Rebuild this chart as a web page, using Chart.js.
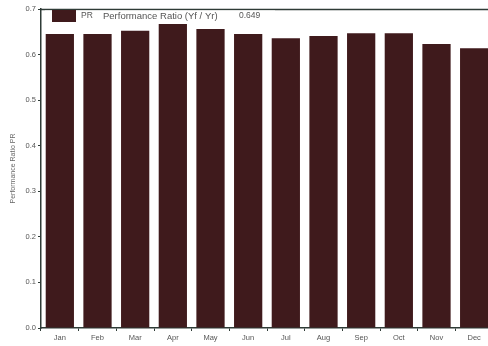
<!DOCTYPE html>
<html>
<head>
<meta charset="utf-8">
<script src="https://cdn.jsdelivr.net/npm/chart.js@4"></script>
<style>
  html, body { margin: 0; padding: 0; background: #fff; overflow: hidden; }
  #wrap { width: 493px; height: 346px; }
</style>
</head>
<body>
<div id="wrap"><canvas id="c" width="493" height="346"></canvas></div>
<script>
// monthly performance ratio
const months = ['Jan', 'Feb', 'Mar', 'Apr', 'May', 'Jun', 'Jul', 'Aug', 'Sep', 'Oct', 'Nov', 'Dec'];
const prValues = [0.645, 0.645, 0.652, 0.667, 0.656, 0.645, 0.636, 0.641, 0.647, 0.647, 0.623, 0.614];
const yTicks = [0.0, 0.1, 0.2, 0.3, 0.4, 0.5, 0.6, 0.7];
const legendParts = ['PR', 'Performance Ratio (Yf / Yr)', '0.649'];

const barColor = '#3f1a1c';
const axisColor = '#2e3b36';
const textColor = '#555';
const fontFam = 'Arial, "Liberation Sans", sans-serif';

// legend box drawn inside the plot, top-left, plus the top frame line
const legendBox = {
    id: 'legendBox',
    afterDraw(chart) {
        const c = chart.ctx, a = chart.chartArea;
        c.save();
        c.strokeStyle = axisColor;
        c.lineWidth = 1.5;
        c.beginPath();
        c.moveTo(a.left, a.top + 0.5);
        c.lineTo(a.right, a.top + 0.5);
        c.stroke();
        c.fillStyle = '#fff';
        c.fillRect(a.left + 4, a.top + 1.5, 230, 13);
        c.fillStyle = barColor;
        c.fillRect(a.left + 11, a.top + 1, 24, 12);
        c.fillStyle = '#555';
        c.textBaseline = 'middle';
        c.font = '8.5px ' + fontFam;
        c.fillText(legendParts[0], a.left + 40, a.top + 7);
        c.font = '9.5px ' + fontFam;
        c.fillText(legendParts[1], a.left + 62, a.top + 7);
        c.font = '8.5px ' + fontFam;
        c.fillText(legendParts[2], a.left + 198, a.top + 7);
        c.restore();
    }
};

new Chart(document.getElementById('c'), {
    type: 'bar',
    data: {
        labels: months,
        datasets: [{
            label: 'PR',
            data: prValues,
            backgroundColor: barColor,
            borderWidth: 0,
            barPercentage: 0.75,
            categoryPercentage: 1.0
        }]
    },
    options: {
        responsive: false,
        animation: false,
        layout: { padding: { top: 9, left: 9, right: 0, bottom: 0 } },
        plugins: {
            legend: { display: false },
            tooltip: { enabled: false }
        },
        scales: {
            x: {
                grid: { display: true, drawOnChartArea: false, color: axisColor, tickLength: 3, offset: true },
                border: { color: axisColor, width: 1.5 },
                ticks: { color: textColor, font: { size: 7.5, family: fontFam }, padding: 2, maxRotation: 0 },
                afterFit(s) { s.height = 18; }
            },
            y: {
                min: 0,
                max: 0.7,
                afterBuildTicks(s) { s.ticks = yTicks.map(v => ({ value: v })); },
                grid: { display: true, drawOnChartArea: false, color: axisColor, tickLength: 3 },
                border: { color: axisColor, width: 1.5 },
                ticks: {
                    color: textColor,
                    font: { size: 7.5, family: fontFam },
                    padding: 2,
                    callback: v => v.toFixed(1)
                },
                title: {
                    display: true,
                    text: 'Performance Ratio PR',
                    color: '#666',
                    font: { size: 7, family: fontFam },
                    padding: { top: 0, bottom: 6 }
                },
                afterFit(s) { s.width = 32; }
            }
        }
    },
    plugins: [legendBox]
});
</script>
</body>
</html>
